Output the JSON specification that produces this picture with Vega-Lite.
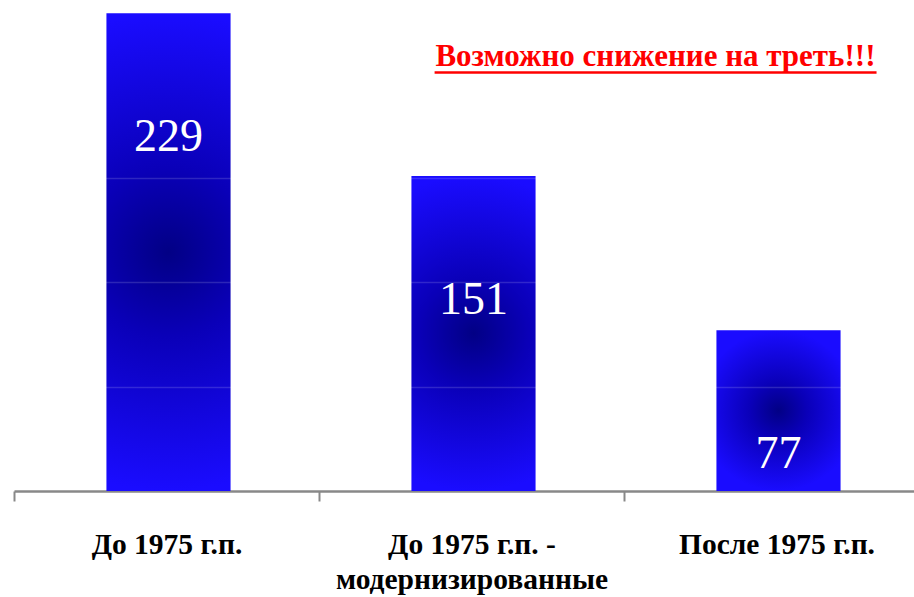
{
  "$schema": "https://vega.github.io/schema/vega-lite/v6.json",
  "autosize": {"type": "none"},
  "width": 900,
  "height": 491,
  "padding": {"left": 14, "top": 0, "right": 0, "bottom": 106},
  "background": "white",
  "config": {"view": {"stroke": null}},
  "data": {"values": [
    {"category": "До 1975 г.п.", "value": 229},
    {"category": "До 1975 г.п. - модернизированные", "value": 151},
    {"category": "После 1975 г.п.", "value": 77}
  ]},
  "layer": [
    {
      "mark": {
        "type": "bar",
        "width": {"band": 0.407},
        "xOffset": 2,
        "stroke": null,
        "fill": {
          "gradient": "radial",
          "x1": 0.5, "y1": 0.5, "r1": 0,
          "x2": 0.5, "y2": 0.5, "r2": 0.5,
          "stops": [
            {"offset": 0, "color": "#020085"},
            {"offset": 0.35, "color": "#0a00b8"},
            {"offset": 1, "color": "#1a0cff"}
          ]
        }
      },
      "encoding": {
        "x": {
          "field": "category", "type": "nominal", "sort": null,
          "scale": {"range": [0, 915], "paddingInner": 0, "paddingOuter": 0},
          "axis": {
            "title": null,
            "labelAngle": 0,
            "labelFont": "Liberation Serif",
            "labelFontWeight": "bold",
            "labelFontSize": 29.5,
            "labelColor": "black",
            "labelLineHeight": 35,
            "labelBaseline": "top",
            "labelPadding": 29,
            "labelLimit": 400,
            "labelExpr": "datum.label == 'До 1975 г.п. - модернизированные' ? ['До 1975 г.п. -', 'модернизированные'] : datum.label",
            "tickBand": "extent",
            "tickSize": 10,
            "tickColor": "#888888",
            "tickWidth": 2,
            "domainColor": "#888888",
            "domainWidth": 2.5
          }
        },
        "y": {
          "field": "value", "type": "quantitative",
          "scale": {"domain": [0, 235.3], "nice": false, "zero": true},
          "axis": {
            "title": null, "labels": false, "ticks": false, "domain": false,
            "grid": true, "values": [50, 100, 150],
            "gridColor": "white", "gridOpacity": 0.15, "gridWidth": 1.5,
            "zindex": 1
          }
        }
      }
    },
    {
      "mark": {
        "type": "text",
        "font": "Liberation Serif",
        "fontSize": 46,
        "color": "white",
        "baseline": "middle",
        "align": "center",
        "dx": 2,
        "dy": 124
      },
      "encoding": {
        "x": {"field": "category", "type": "nominal", "sort": null},
        "y": {"field": "value", "type": "quantitative"},
        "text": {"field": "value", "type": "quantitative"}
      }
    },
    {
      "data": {"values": [{"note": "Возможно снижение на треть!!!"}]},
      "mark": {
        "type": "text",
        "font": "Liberation Serif",
        "fontWeight": "bold",
        "fontSize": 31,
        "color": "#ff0000",
        "baseline": "middle",
        "align": "center"
      },
      "encoding": {
        "x": {"datum": "После 1975 г.п.", "bandPosition": 0.103},
        "y": {"datum": 208},
        "text": {"field": "note"}
      }
    },
    {
      "data": {"values": [{"note": "underline"}]},
      "mark": {"type": "rule", "color": "#ff0000", "strokeWidth": 2.5},
      "encoding": {
        "x": {"datum": "До 1975 г.п. - модернизированные", "bandPosition": 0.379},
        "x2": {"datum": "После 1975 г.п.", "bandPosition": 0.828},
        "y": {"datum": 200.5}
      }
    }
  ]
}
